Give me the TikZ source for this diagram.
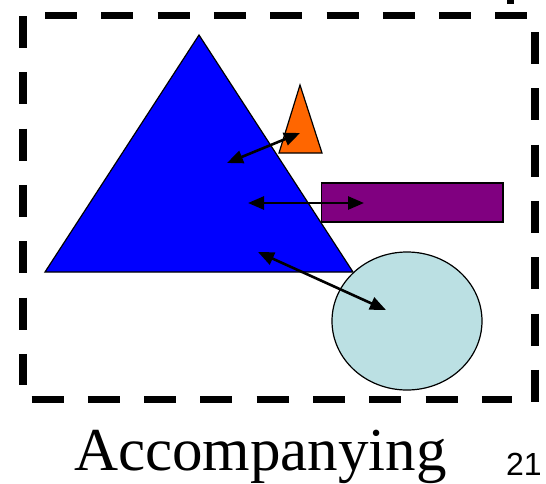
\documentclass[tikz,border=0pt]{standalone}
\usepackage{fontspec}
\setmainfont{Liberation Serif}
\newfontfamily\labelsans{Liberation Sans}
\usetikzlibrary{arrows.meta}
\definecolor{shapeblue}{HTML}{0000FF}
\definecolor{shapeorange}{HTML}{FF6600}
\definecolor{shapepurple}{HTML}{800080}
\definecolor{shapecyan}{HTML}{BBE0E3}
\tikzset{
  frameside/.style={line width=7.5pt, dash pattern=on 32pt off 24.3pt},
  shapeline/.style={draw=black, line width=1.2pt, line join=miter},
  linkarrow/.style={line width=2.6pt, {Triangle[length=16pt,width=13pt]}-{Triangle[length=16pt,width=13pt]}}
}
\begin{document}
\begin{tikzpicture}[x=1pt,y=-1pt]
\useasboundingbox (0,0) rectangle (546,483);
% dashed frame
\draw[frameside] (45,15.5) -- (535,15.5);
\draw[frameside] (535,32) -- (535,403);
\draw[frameside] (31.5,399.5) -- (512,399.5);
\draw[frameside] (23,16) -- (23,385);
\fill (507,0) rectangle (514,4);
% shapes
\draw[shapeline, fill=shapeblue] (199,35) -- (353,272) -- (45,272) -- cycle;
\draw[shapeline, fill=shapeorange] (300,85) -- (322,153) -- (279,153) -- cycle;
\draw[shapeline, fill=shapepurple] (321.5,183) rectangle (503,222);
\draw[shapeline, fill=shapecyan] (407,321) ellipse [x radius=75, y radius=69];
% arrow end points
\coordinate (a1) at (227,163);
\coordinate (b1) at (300,133);
\coordinate (a2) at (248,203);
\coordinate (b2) at (364,203);
\coordinate (a3) at (258,252);
\coordinate (b3) at (386,310);
\draw[linkarrow] (a1) -- (b1);
\draw[linkarrow] (a2) -- (b2);
\draw[linkarrow] (a3) -- (b3);
% texts
\node[anchor=base west, inner sep=0, font=\fontsize{61}{70}\selectfont] (caption) at (74,470) {Accompanying};
\node[anchor=base west, inner sep=0, font=\labelsans\fontsize{32}{36}\selectfont] (pagenum) at (506,475) {21};
\end{tikzpicture}
\end{document}
